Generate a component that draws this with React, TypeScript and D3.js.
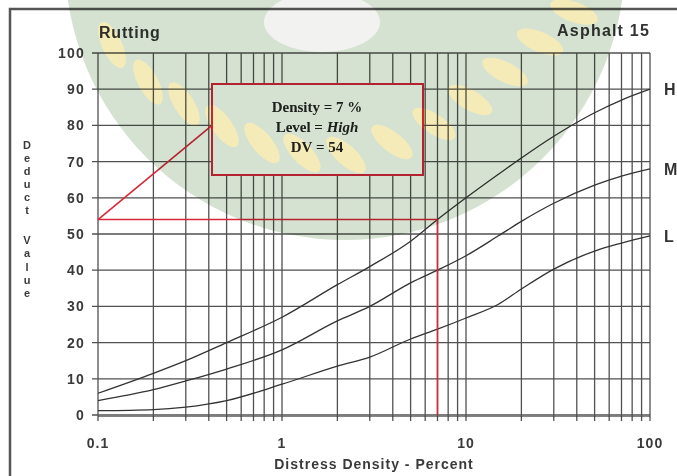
import React from "react";
import * as d3 from "d3";

// distress density (percent) where the curves were read
const densities = [0.1, 0.2, 0.3, 0.5, 1, 2, 3, 5, 7, 10, 15, 20, 30, 50, 70, 100];
// deduct values per severity level
const highDV = [6, 11.5, 15, 20, 27, 36, 41, 48, 54, 60, 66.5, 71, 77, 83.5, 87, 90];
const mediumDV = [4, 7, 9.4, 12.7, 18, 26, 30, 36.5, 40, 44, 49.5, 53.5, 58.5, 63.5, 66, 68];
const lowDV = [1.2, 1.5, 2.2, 4, 8.5, 13.5, 16, 21, 23.7, 26.8, 30.6, 34.8, 40.3, 45.3, 47.5, 49.5];

const levelNames = ["H", "M", "L"];
const xTickLabels = [0.1, 1, 10, 100];
const yTickValues = [0, 10, 20, 30, 40, 50, 60, 70, 80, 90, 100];

// worked example from the picture
const sampleDensity = 7;
const sampleDV = 54;
const boxLines = ["Density = 7 %", "Level = ", "DV = 54"];

// watermark leaves (decoration only)
const leaves = [
  [112, 45], [148, 82], [184, 104], [222, 126], [262, 143], [302, 153],
  [346, 155], [392, 142], [434, 124], [470, 100], [505, 72], [540, 42], [574, 12],
];

const W = 677;
const H = 476;

export default function App() {
  const x = d3.scaleLog().domain([0.1, 100]).range([98, 650]);
  const y = d3.scaleLinear().domain([0, 100]).range([415, 53]);

  const series = [highDV, mediumDV, lowDV];
  const line = d3
    .line<number>()
    .x((_, i) => x(densities[i]))
    .y((d) => y(d))
    .curve(d3.curveMonotoneX);

  const gridX = x.ticks();
  const ink = "#333";
  const red = "#d8263a";
  const sans = "'Liberation Sans', Arial, sans-serif";

  const px = x(sampleDensity);
  const py = y(sampleDV);

  const deduct = "Deduct".split("");
  const value = "Value".split("");

  return (
    <svg width={W} height={H} style={{ position: "absolute", left: 0, top: 0, background: "#fff" }}>
      {/* frame */}
      <rect x={10} y={9} width={720} height={520} fill="none" stroke="#555" strokeWidth={2.5} />

      {/* grid */}
      <g stroke={ink} strokeWidth={1.3} opacity={0.85}>
        {yTickValues.map((v) => (
          <line key={"h" + v} x1={92} x2={650} y1={y(v)} y2={y(v)} />
        ))}
        {gridX.map((v, i) => (
          <line key={"v" + i} x1={x(v)} x2={x(v)} y1={53} y2={421} />
        ))}
      </g>
      <line x1={98} x2={650} y1={y(0) + 1.5} y2={y(0) + 1.5} stroke={ink} strokeWidth={1} opacity={0.6} />

      {/* curves */}
      {series.map((s, i) => (
        <path key={levelNames[i]} d={line(s) || ""} fill="none" stroke={ink} strokeWidth={1.3} />
      ))}

      {/* level labels */}
      {series.map((s, i) => (
        <text key={"l" + i} x={664} y={y(s[s.length - 1]) + 6} fontFamily={sans} fontWeight="bold" fontSize={16} fill={ink}>
          {levelNames[i]}
        </text>
      ))}

      {/* y tick labels */}
      {yTickValues.map((v) => (
        <text key={"yt" + v} x={85} y={y(v) + 5} textAnchor="end" fontFamily={sans} fontWeight="bold" fontSize={14} letterSpacing={1.2} fill="#3a3a3a">
          {v}
        </text>
      ))}

      {/* x tick labels */}
      {xTickLabels.map((v) => (
        <text key={"xt" + v} x={x(v)} y={448} textAnchor="middle" fontFamily={sans} fontWeight="bold" fontSize={14} letterSpacing={1} fill="#3a3a3a">
          {v}
        </text>
      ))}

      <text x={374} y={469} textAnchor="middle" fontFamily={sans} fontWeight="bold" fontSize={14} letterSpacing={1} fill="#3a3a3a">
        Distress Density - Percent
      </text>

      {deduct.map((c, i) => (
        <text key={"d" + i} x={27} y={149 + i * 13} textAnchor="middle" fontFamily={sans} fontWeight="bold" fontSize={11} fill="#3a3a3a">
          {c}
        </text>
      ))}
      {value.map((c, i) => (
        <text key={"v" + i} x={27} y={244 + i * 13.3} textAnchor="middle" fontFamily={sans} fontWeight="bold" fontSize={11} fill="#3a3a3a">
          {c}
        </text>
      ))}

      <text x={99} y={38} fontFamily={sans} fontWeight="bold" fontSize={16} letterSpacing={0.8} fill={ink}>
        Rutting
      </text>
      <text x={650} y={36} textAnchor="end" fontFamily={sans} fontWeight="bold" fontSize={16} letterSpacing={1.2} fill={ink}>
        Asphalt 15
      </text>

      {/* annotation */}
      <g stroke={red} strokeWidth={1.6} fill="none">
        <line x1={x(0.1)} x2={px} y1={py} y2={py} />
        <line x1={px} x2={px} y1={py} y2={y(0)} />
        <line x1={x(0.1)} x2={212} y1={py} y2={y(80)} />
        <rect x={212} y={84} width={211} height={91} fill="#fff" strokeWidth={2} />
      </g>
      <g fontFamily="'Liberation Serif', 'Times New Roman', serif" fontWeight="bold" fontSize={15} fill="#222" textAnchor="middle">
        <text x={317} y={112}>{boxLines[0]}</text>
        <text x={317} y={132}>
          {boxLines[1]}
          <tspan fontStyle="italic">High</tspan>
        </text>
        <text x={317} y={152}>{boxLines[2]}</text>
      </g>

      {/* watermark */}
      <g style={{ mixBlendMode: "multiply" }}>
        <circle cx={345} cy={-40} r={280} fill="#d5e2d1" />
        {leaves.map(([cx, cy], i) => {
          const a = 65 - (45 * (cx - 112)) / 460;
          return <ellipse key={"lf" + i} cx={cx} cy={cy} rx={25} ry={10} transform={`rotate(${a} ${cx} ${cy})`} fill="#f5ebb8" />;
        })}
        <ellipse cx={322} cy={22} rx={58} ry={30} fill="#f2f3f0" />
      </g>
    </svg>
  );
}
